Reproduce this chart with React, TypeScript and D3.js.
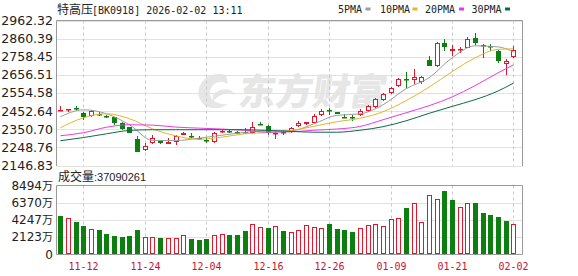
import React from 'react';
import * as d3 from 'd3';

const dates = [
  '11-07', '11-10', '11-11', '11-12', '11-13', '11-14', '11-17', '11-18', '11-19', '11-20',
  '11-21', '11-24', '11-25', '11-26', '11-27', '11-28', '12-01', '12-02', '12-03', '12-04',
  '12-05', '12-08', '12-09', '12-10', '12-11', '12-12', '12-15', '12-16', '12-17', '12-18',
  '12-19', '12-22', '12-23', '12-24', '12-25', '12-26', '12-29', '12-30', '12-31', '01-05',
  '01-06', '01-07', '01-08', '01-09', '01-12', '01-13', '01-14', '01-15', '01-16', '01-19',
  '01-20', '01-21', '01-22', '01-23', '01-26', '01-27', '01-28', '01-29', '01-30', '02-02',
];

const open = [
  2452, 2462, 2469, 2443, 2426, 2438, 2424, 2417, 2385, 2361,
  2295, 2235, 2276, 2286, 2270, 2278, 2320, 2312, 2303, 2288,
  2279, 2334, 2340, 2338, 2336, 2329, 2382, 2368, 2326, 2334,
  2335, 2370, 2382, 2388, 2430, 2458, 2446, 2422, 2421, 2430,
  2454, 2478, 2516, 2554, 2595, 2634, 2628, 2618, 2741, 2704,
  2838, 2793, 2795, 2809, 2863, 2826, 2818, 2792, 2719, 2757,
];
const high = [
  2479, 2467, 2482, 2446, 2460, 2445, 2432, 2422, 2394, 2363,
  2314, 2273, 2318, 2293, 2301, 2318, 2335, 2327, 2310, 2301,
  2338, 2347, 2352, 2342, 2357, 2389, 2394, 2372, 2342, 2344,
  2366, 2395, 2394, 2435, 2462, 2470, 2450, 2434, 2432, 2465,
  2488, 2525, 2556, 2587, 2638, 2670, 2690, 2651, 2764, 2840,
  2859, 2826, 2816, 2872, 2891, 2828, 2831, 2795, 2745, 2820,
];
const low = [
  2451, 2446, 2456, 2404, 2419, 2428, 2413, 2376, 2348, 2329,
  2220, 2230, 2268, 2266, 2269, 2264, 2316, 2302, 2290, 2273,
  2276, 2330, 2332, 2322, 2325, 2324, 2378, 2318, 2295, 2320,
  2330, 2365, 2372, 2384, 2424, 2432, 2434, 2416, 2395, 2425,
  2450, 2470, 2512, 2550, 2587, 2580, 2606, 2607, 2704, 2700,
  2788, 2765, 2779, 2805, 2826, 2751, 2788, 2726, 2657, 2752,
];
const close = [
  2457, 2466, 2465, 2422, 2454, 2434, 2421, 2385, 2352, 2332,
  2222, 2259, 2300, 2276, 2278, 2310, 2330, 2309, 2300, 2285,
  2329, 2342, 2336, 2333, 2331, 2366, 2379, 2330, 2332, 2330,
  2357, 2388, 2390, 2428, 2456, 2452, 2437, 2418, 2417, 2456,
  2483, 2520, 2550, 2582, 2633, 2630, 2642, 2644, 2707, 2835,
  2816, 2800, 2803, 2858, 2835, 2822, 2814, 2736, 2735, 2798,
];
const prevClose = 2470;

// volume in 万
const volume = [
  4659, 4460, 3910, 3497, 3123, 3000, 2500, 2250, 2120, 2250,
  3000, 2120, 2120, 2000, 2000, 2000, 2330, 1870, 1750, 1870,
  2330, 2500, 2370, 2370, 2870, 3750, 3370, 3250, 3460, 2870,
  2750, 3000, 3620, 3370, 3250, 3750, 3120, 3000, 2750, 3250,
  3620, 3750, 3500, 4370, 4500, 5745, 6370, 4000, 7370, 6870,
  7870, 6745, 5870, 6370, 6370, 5040, 4870, 4620, 4120, 3709,
];

const maIndex = [0, 3, 6, 9, 12, 15, 18, 21, 24, 27, 30, 33, 36, 39, 42, 45, 48, 51, 54, 57, 59];
const ma5 = [2421, 2460, 2438, 2376, 2288, 2287, 2300, 2317, 2333, 2342, 2342, 2381, 2429, 2437, 2488, 2578, 2640, 2752, 2820, 2814, 2786];
const ma10 = [2359, 2415, 2438, 2410, 2353, 2314, 2294, 2306, 2325, 2332, 2343, 2367, 2393, 2412, 2449, 2511, 2587, 2674, 2752, 2800, 2803];
const ma20 = [2314, 2331, 2362, 2376, 2374, 2363, 2357, 2352, 2345, 2334, 2336, 2345, 2352, 2366, 2404, 2443, 2483, 2532, 2596, 2668, 2713];
const ma30 = [2286, 2304, 2325, 2344, 2348, 2348, 2348, 2348, 2348, 2344, 2339, 2334, 2334, 2345, 2365, 2398, 2440, 2479, 2517, 2566, 2610];

const priceTicks = [2962.32, 2860.39, 2758.45, 2656.51, 2554.58, 2452.64, 2350.70, 2248.76, 2146.83];
const volTicks = [8494, 6370, 4247, 2123, 0];
const xTickLabels = ['11-12', '11-24', '12-04', '12-16', '12-26', '01-09', '01-21', '02-02'];

const titleName = '特高压';
const titleRest = '[BK0918] 2026-02-02 13:11';
const volLabel = '成交量';
const volValue = ':37090261';
const legendNames = ['5PMA', '10PMA', '20PMA', '30PMA'];
const watermark = '东方财富';

const W = 578;
const H = 276;
const L = 56.5;
const R = 522.5;
const PT = 20.5;
const PB = 165.5;
const VT = 185.5;
const VB = 254;

const RED = '#e3162b';
const GREEN = '#0d7f10';
const maColors = ['#9c9c9c', '#e6b52c', '#e63ce6', '#0b6a4c'];
const GRID = '#e2e2e2';
const VGRID = '#c9c9c9';
const FRAME = '#9a9a9a';
const TXT = '#222';
const WM = '#e6e6e6';

export default function App() {
  const x = d3.scaleBand<string>().domain(dates).range([L, 517.3]).padding(0);
  const bw = x.bandwidth();
  const cx = (i: number) => Math.round((x(dates[i]) as number) + bw / 2);
  const cxf = (i: number) => (x(dates[i]) as number) + bw / 2;

  const y = d3.scaleLinear().domain([priceTicks[priceTicks.length - 1], priceTicks[0]]).range([PB, PT]);
  const yv = d3.scaleLinear().domain([0, volTicks[0]]).range([VB, VT]);

  const maLine = (vals: number[]) =>
    d3
      .line<number>()
      .x((_, k) => cxf(maIndex[k]))
      .y((v) => y(v))
      .curve(d3.curveMonotoneX)(vals) as string;

  const tickIdx = xTickLabels.map((t) => dates.indexOf(t));

  const legendX = [338, 380, 425, 471.5];
  const legendMarkX = [365.5, 412.5, 459, 505];

  return (
    <svg
      width={W}
      height={H}
      style={{ position: 'absolute', left: 0, top: 0, background: '#fff' }}
      xmlns="http://www.w3.org/2000/svg"
    >
      <rect x={0} y={0} width={W} height={H} fill="#fff" />

      {/* watermark */}
      <g>
        <path
          d="M 226 75 C 208 70 196 84 199 97 C 202 108 217 112 228 104 C 219 105 210 101 210 93 C 210 84 219 79 228 84 Z"
          fill={WM}
        />
        <path d="M 213 95 C 219 88 231 87 235 95 C 229 92 221 93 213 101 Z" fill={WM} />
        <text
          x={238}
          y={105}
          fontFamily="'Noto Sans CJK SC'"
          fontWeight={900}
          fontSize={37}
          fill={WM}
          transform="skewX(-8) translate(14,0)"
        >
          {watermark}
        </text>
      </g>

      {/* price grid */}
      {priceTicks.map((t, k) => (
        <line key={'pg' + k} x1={L} x2={R} y1={Math.round(y(t)) + 0.5} y2={Math.round(y(t)) + 0.5} stroke={GRID} />
      ))}
      {volTicks.slice(1, -1).map((t, k) => (
        <line key={'vg' + k} x1={L} x2={R} y1={Math.round(yv(t)) + 0.5} y2={Math.round(yv(t)) + 0.5} stroke={GRID} />
      ))}
      {tickIdx.map((i, k) => (
        <g key={'vx' + k}>
          <line x1={cx(i) + 0.5} x2={cx(i) + 0.5} y1={PT} y2={PB} stroke={VGRID} strokeDasharray="3,3" />
          <line x1={cx(i) + 0.5} x2={cx(i) + 0.5} y1={VT} y2={VB} stroke={VGRID} strokeDasharray="3,3" />
        </g>
      ))}

      {/* frames */}
      <path d={`M${L},${PB + 0.5} L${L},${PT} L${R},${PT} L${R},${PB + 0.5}`} fill="none" stroke={FRAME} />
      <path d={`M${L},${VT} L${R},${VT} L${R},${VB + 0.5} L${L},${VB + 0.5} Z`} fill="none" stroke={FRAME} />

      {/* candles */}
      {dates.map((d, i) => {
        const o = open[i];
        const c = close[i];
        const up = c >= o;
        const col = up ? RED : GREEN;
        const xc = cx(i);
        const top = Math.round(y(Math.max(o, c)));
        const bot = Math.round(y(Math.min(o, c)));
        const hy = Math.round(y(high[i]));
        const ly = Math.round(y(low[i]));
        const bh = Math.max(bot - top, 1);
        if (up) {
          return (
            <g key={'c' + i}>
              <line x1={xc + 0.5} x2={xc + 0.5} y1={hy} y2={top} stroke={col} />
              <line x1={xc + 0.5} x2={xc + 0.5} y1={top + bh} y2={ly} stroke={col} />
              {bh > 2 ? (
                <rect x={xc - 1.5} y={top + 0.5} width={4} height={bh - 1} fill="#fff" stroke={col} />
              ) : (
                <rect x={xc - 2} y={top} width={5} height={Math.max(bh, 1.5)} fill={col} />
              )}
            </g>
          );
        }
        return (
          <g key={'c' + i}>
            <line x1={xc + 0.5} x2={xc + 0.5} y1={hy} y2={ly} stroke={col} />
            <rect x={xc - 2} y={top} width={5} height={Math.max(bh, 1.5)} fill={col} />
          </g>
        );
      })}

      {/* moving averages */}
      {[ma5, ma10, ma20, ma30].map((m, k) => (
        <path key={'ma' + k} d={maLine(m)} fill="none" stroke={maColors[k]} strokeWidth={1} />
      ))}

      {/* volume bars */}
      {volume.map((v, i) => {
        const pc = i === 0 ? prevClose : close[i - 1];
        const up = close[i] >= pc;
        const xc = cx(i);
        const top = Math.round(yv(v));
        if (up) {
          return (
            <rect key={'v' + i} x={xc - 1.5} y={top + 0.5} width={4} height={VB - top - 1} fill="#fff" stroke={RED} />
          );
        }
        return <rect key={'v' + i} x={xc - 2} y={top} width={5} height={VB - top} fill={GREEN} />;
      })}

      {/* price labels */}
      {priceTicks.map((t, k) => (
        <text
          key={'pl' + k}
          x={53}
          y={y(t) + 4.5}
          textAnchor="end"
          fontFamily="'DejaVu Sans'"
          fontSize={12.5}
          fill={TXT}
        >
          {t.toFixed(2)}
        </text>
      ))}

      {/* volume labels */}
      {volTicks.map((t, k) => (
        <text
          key={'vl' + k}
          x={53}
          y={yv(t) + 4.5}
          textAnchor="end"
          fontFamily="'DejaVu Sans'"
          fontSize={12}
          fill={TXT}
        >
          {t === 0 ? (
            '0'
          ) : (
            <>
              {String(t)}
              <tspan fontFamily="'Noto Sans CJK SC'" fontSize={11}>
                万
              </tspan>
            </>
          )}
        </text>
      ))}

      {/* x labels */}
      {tickIdx.map((i, k) => (
        <text
          key={'xl' + k}
          x={cx(i) + 0.5}
          y={270}
          textAnchor="middle"
          fontFamily="'DejaVu Sans Mono'"
          fontSize={10}
          fill="#d0102e"
        >
          {xTickLabels[k]}
        </text>
      ))}

      {/* title */}
      <text x={57} y={14} fontFamily="'Noto Sans CJK SC'" fontSize={12} fill={TXT}>
        {titleName}
      </text>
      <text x={92} y={13.5} fontFamily="'DejaVu Sans Mono'" fontSize={10} fill={TXT}>
        {titleRest}
      </text>

      {/* legend */}
      {legendNames.map((n, k) => (
        <g key={'lg' + k}>
          <text x={legendX[k]} y={13} fontFamily="'DejaVu Sans Mono'" fontSize={10} fill={TXT}>
            {n}
          </text>
          <rect x={legendMarkX[k]} y={7.5} width={5} height={3} fill={maColors[k]} />
        </g>
      ))}

      {/* volume title */}
      <text x={58} y={181} fontFamily="'Noto Sans CJK SC'" fontSize={12} fill={TXT}>
        {volLabel}
      </text>
      <text x={94} y={181} fontFamily="'Liberation Sans'" fontSize={11} fill={TXT}>
        {volValue}
      </text>
    </svg>
  );
}
